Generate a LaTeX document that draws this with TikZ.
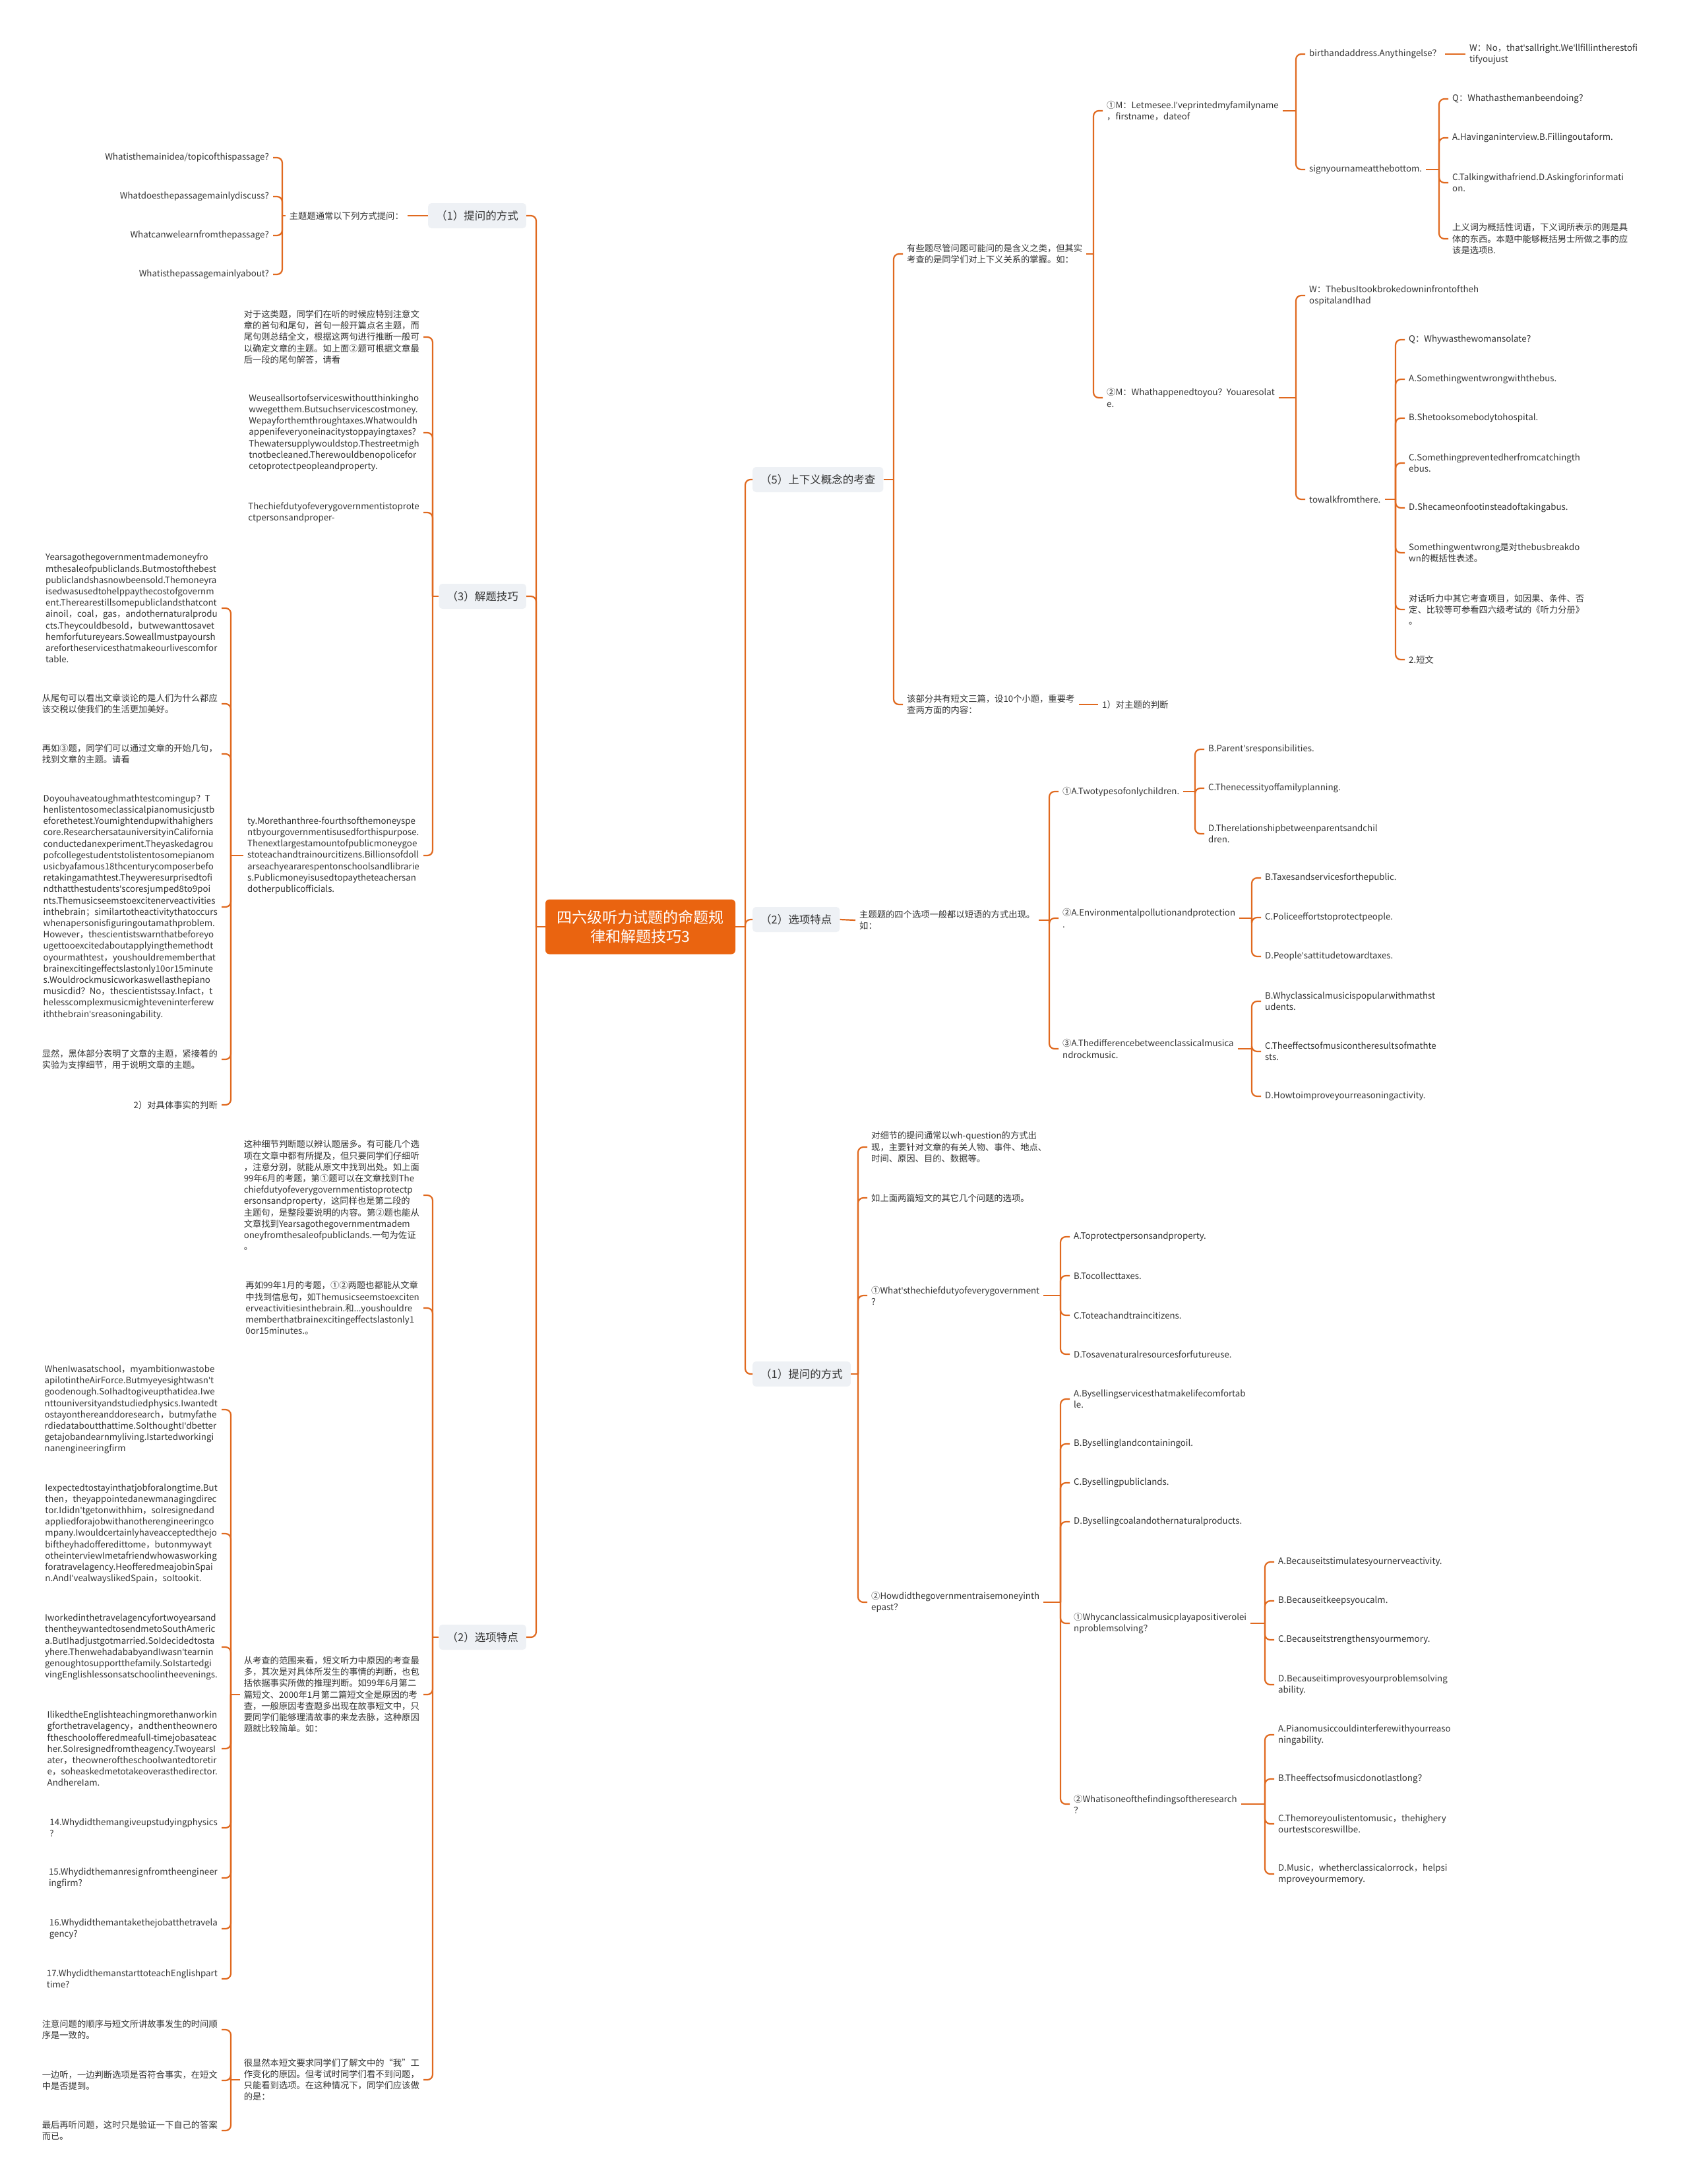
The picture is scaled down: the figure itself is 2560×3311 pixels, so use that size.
\documentclass[tikz,border=0pt]{standalone}
\usepackage{fontspec}
\setmainfont{Noto Sans CJK SC}
\newfontfamily\apfont{Noto Sans}
\newcommand\ap{{\apfont'}}
\usetikzlibrary{positioning}

\definecolor{linkorange}{HTML}{E0691F}
\definecolor{rootorange}{HTML}{EA6410}
\definecolor{topicgray}{HTML}{EEF1F5}
\definecolor{textgray}{HTML}{333333}

\tikzset{
  note/.style={font=\fontsize{13.3}{17.2}\selectfont, text=textgray, align=left, inner xsep=6pt, inner ysep=2pt},
  notel/.style={note, anchor=east},
  noter/.style={note, anchor=west},
  topic/.style={fill=topicgray, rounded corners=5pt, font=\fontsize{16.5}{20}\selectfont, text=textgray, minimum height=38pt, inner xsep=12pt},
  link/.style={draw=linkorange, line width=2.2pt},
  branch/.style={link, rounded corners=8pt},
}

\begin{document}
\begin{tikzpicture}[x=1pt, y=-1pt]
  \fill[white] (0,0) rectangle (2560,3311);
  \useasboundingbox (0,0) rectangle (2560,3311);

  % root
  \node[fill=rootorange, rounded corners=6pt, text=white, align=center,
    font=\fontsize{23}{29.5}\selectfont, minimum width=288pt, minimum height=83pt]
    (root) at (971,1405) {四六级听力试题的命题规\\律和解题技巧3};

  %% left side
  \coordinate (sL) at (813,1405);
  \node[topic, anchor=east] (q1L) at (798,327) {（1）提问的方式};
  \node[topic, anchor=east] (tech3) at (798,904) {（3）解题技巧};
  \node[topic, anchor=east] (opt2L) at (798,2482) {（2）选项特点};
  \draw[link] (root.west) -- (sL);
  \foreach \n in {q1L,tech3,opt2L} \draw[branch] (sL) |- (\n.east);

  % (1) question forms
  \node[notel] (l1q) at (618,327) {主题题通常以下列方式提问：};
  \draw[link] (q1L.west) -- (l1q.east);
  \node[notel] (l1qa) at (414,239) {Whatisthemainidea/topicofthispassage?};
  \node[notel] (l1qb) at (414,298) {Whatdoesthepassagemainlydiscuss?};
  \node[notel] (l1qc) at (414,357) {Whatcanwelearnfromthepassage?};
  \node[notel] (l1qd) at (414,416) {Whatisthepassagemainlyabout?};
  \coordinate (s1) at (428,327);
  \draw[link] (l1q.west) -- (s1);
  \foreach \n in {l1qa,l1qb,l1qc,l1qd} \draw[branch] (s1) |- (\n.east);

  % (3) skills
  \node[notel] (t3a) at (642,511) {对于这类题，同学们在听的时候应特别注意文\\
    章的首句和尾句，首句一般开篇点名主题，而\\
    尾句则总结全文，根据这两句进行推断一般可\\
    以确定文章的主题。如上面②题可根据文章最\\
    后一段的尾句解答，请看};
  \node[notel] (t3b) at (642,656) {Weuseallsortofserviceswithoutthinkingho\\
    wwegetthem.Butsuchservicescostmoney.\\
    Wepayforthemthroughtaxes.Whatwouldh\\
    appenifeveryoneinacitystoppayingtaxes?\\
    Thewatersupplywouldstop.Thestreetmigh\\
    tnotbecleaned.Therewouldbenopolicefor\\
    cetoprotectpeopleandproperty.};
  \node[notel] (t3c) at (642,777) {Thechiefdutyofeverygovernmentistoprote\\
    ctpersonsandproper-};
  \node[notel] (t3d) at (642,1297) {ty.Morethanthree-fourthsofthemoneyspe\\
    ntbyourgovernmentisusedforthispurpose.\\
    Thenextlargestamountofpublicmoneygoe\\
    stoteachandtrainourcitizens.Billionsofdoll\\
    arseachyeararespentonschoolsandlibrarie\\
    s.Publicmoneyisusedtopaytheteachersan\\
    dotherpublicofficials.};
  \coordinate (s3) at (656,904);
  \draw[link] (tech3.west) -- (s3);
  \foreach \n in {t3a,t3b,t3c,t3d} \draw[branch] (s3) |- (\n.east);

  \node[notel] (t3da) at (336,922) {Yearsagothegovernmentmademoneyfro\\
    mthesaleofpubliclands.Butmostofthebest\\
    publiclandshasnowbeensold.Themoneyra\\
    isedwasusedtohelppaythecostofgovernm\\
    ent.Therearestillsomepubliclandsthatcont\\
    ainoil，coal，gas，andothernaturalprodu\\
    cts.Theycouldbesold，butwewanttosavet\\
    hemforfutureyears.Soweallmustpayoursh\\
    arefortheservicesthatmakeourlivescomfor\\
    table.};
  \node[notel] (t3db) at (336,1067) {从尾句可以看出文章谈论的是人们为什么都应\\
    该交税以使我们的生活更加美好。};
  \node[notel] (t3dc) at (336,1143) {再如③题，同学们可以通过文章的开始几句，\\
    找到文章的主题。请看};
  \node[notel] (t3dd) at (336,1375) {Doyouhaveatoughmathtestcomingup？T\\
    henlistentosomeclassicalpianomusicjustb\\
    eforethetest.Youmightendupwithahighers\\
    core.ResearchersatauniversityinCalifornia\\
    conductedanexperiment.Theyaskedagrou\\
    pofcollegestudentstolistentosomepianom\\
    usicbyafamous18thcenturycomposerbefo\\
    retakingamathtest.Theyweresurprisedtofi\\
    ndthatthestudents\ap scoresjumped8to9poi\\
    nts.Themusicseemstoexcitenerveactivities\\
    inthebrain；similartotheactivitythatoccurs\\
    whenapersonisfiguringoutamathproblem.\\
    However，thescientistswarnthatbeforeyo\\
    ugettooexcitedaboutapplyingthemethodt\\
    oyourmathtest，youshouldrememberthat\\
    brainexcitingeffectslastonly10or15minute\\
    s.Wouldrockmusicworkaswellasthepiano\\
    musicdid？No，thescientistssay.Infact，t\\
    helesscomplexmusicmighteveninterferew\\
    iththebrain\ap sreasoningability.};
  \node[notel] (t3de) at (336,1606) {显然，黑体部分表明了文章的主题，紧接着的\\
    实验为支撑细节，用于说明文章的主题。};
  \node[notel] (t3df) at (336,1675) {2）对具体事实的判断};
  \coordinate (s3d) at (350,1297);
  \draw[link] (t3d.west) -- (s3d);
  \foreach \n in {t3da,t3db,t3dc,t3dd,t3de,t3df} \draw[branch] (s3d) |- (\n.east);

  % (2) option features, left
  \node[notel] (d2a) at (642,1812) {这种细节判断题以辨认题居多。有可能几个选\\
    项在文章中都有所提及，但只要同学们仔细听\\
    ，注意分别，就能从原文中找到出处。如上面\\
    99年6月的考题，第①题可以在文章找到The\\
    chiefdutyofeverygovernmentistoprotectp\\
    ersonsandproperty，这同样也是第二段的\\
    主题句，是整段要说明的内容。第②题也能从\\
    文章找到Yearsagothegovernmentmadem\\
    oneyfromthesaleofpubliclands.一句为佐证\\
    。};
  \node[notel] (d2b) at (642,1983) {再如99年1月的考题，①②两题也都能从文章\\
    中找到信息句，如Themusicseemstoexciten\\
    erveactivitiesinthebrain.和...youshouldre\\
    memberthatbrainexcitingeffectslastonly1\\
    0or15minutes.。};
  \node[notel] (d2c) at (642,2569) {从考查的范围来看，短文听力中原因的考查最\\
    多，其次是对具体所发生的事情的判断，也包\\
    括依据事实所做的推理判断。如99年6月第二\\
    篇短文、2000年1月第二篇短文全是原因的考\\
    查，一般原因考查题多出现在故事短文中，只\\
    要同学们能够理清故事的来龙去脉，这种原因\\
    题就比较简单。如：};
  \node[notel] (d2d) at (642,3153) {很显然本短文要求同学们了解文中的“我”工\\
    作变化的原因。但考试时同学们看不到问题，\\
    只能看到选项。在这种情况下，同学们应该做\\
    的是：};
  \coordinate (s2) at (656,2482);
  \draw[link] (opt2L.west) -- (s2);
  \foreach \n in {d2a,d2b,d2c,d2d} \draw[branch] (s2) |- (\n.east);

  \node[notel] (d2ca) at (336,2137) {WhenIwasatschool，myambitionwastobe\\
    apilotintheAirForce.Butmyeyesightwasn\ap t\\
    goodenough.SoIhadtogiveupthatidea.Iwe\\
    nttouniversityandstudiedphysics.Iwantedt\\
    ostayonthereanddoresearch，butmyfathe\\
    rdiedataboutthattime.SoIthoughtI\ap dbetter\\
    getajobandearnmyliving.Istartedworkingi\\
    nanengineeringfirm};
  \node[notel] (d2cb) at (336,2325) {Iexpectedtostayinthatjobforalongtime.But\\
    then，theyappointedanewmanagingdirec\\
    tor.Ididn\ap tgetonwithhim，soIresignedand\\
    appliedforajobwithanotherengineeringco\\
    mpany.Iwouldcertainlyhaveacceptedthejo\\
    biftheyhadofferedittome，butonmywayt\\
    otheinterviewImetafriendwhowasworking\\
    foratravelagency.HeofferedmeajobinSpai\\
    n.AndI\ap vealwayslikedSpain，soItookit.};
  \node[notel] (d2cc) at (336,2497) {Iworkedinthetravelagencyfortwoyearsand\\
    thentheywantedtosendmetoSouthAmeric\\
    a.ButIhadjustgotmarried.SoIdecidedtosta\\
    yhere.ThenwehadababyandIwasn\ap tearnin\\
    genoughtosupportthefamily.SoIstartedgi\\
    vingEnglishlessonsatschoolintheevenings.};
  \node[notel] (d2cd) at (336,2651) {IlikedtheEnglishteachingmorethanworkin\\
    gforthetravelagency，andthentheownero\\
    ftheschoolofferedmeafull-timejobasateac\\
    her.SoIresignedfromtheagency.TwoyearsI\\
    ater，theowneroftheschoolwantedtoretir\\
    e，soheaskedmetotakeoverasthedirector.\\
    AndhereIam.};
  \node[notel] (d2ce) at (336,2771) {14.Whydidthemangiveupstudyingphysics\\ ?};
  \node[notel] (d2cf) at (336,2847) {15.Whydidthemanresignfromtheengineer\\ ingfirm?};
  \node[notel] (d2cg) at (336,2924) {16.Whydidthemantakethejobatthetravela\\ gency?};
  \node[notel] (d2ch) at (336,3000) {17.WhydidthemanstarttoteachEnglishpart\\ time?};
  \coordinate (s2c) at (350,2569);
  \draw[link] (d2c.west) -- (s2c);
  \foreach \n in {d2ca,d2cb,d2cc,d2cd,d2ce,d2cf,d2cg,d2ch} \draw[branch] (s2c) |- (\n.east);

  \node[notel] (d2da) at (336,3077) {注意问题的顺序与短文所讲故事发生的时间顺\\ 序是一致的。};
  \node[notel] (d2db) at (336,3154) {一边听，一边判断选项是否符合事实，在短文\\ 中是否提到。};
  \node[notel] (d2dc) at (336,3230) {最后再听问题，这时只是验证一下自己的答案\\ 而已。};
  \coordinate (s2d) at (350,3153);
  \draw[link] (d2d.west) -- (s2d);
  \foreach \n in {d2da,d2db,d2dc} \draw[branch] (s2d) |- (\n.east);

  %% right side
  \coordinate (sR) at (1130,1405);
  \node[topic, anchor=west] (hyp5) at (1141,727) {（5）上下义概念的考查};
  \node[topic, anchor=west] (opt2R) at (1141,1394) {（2）选项特点};
  \node[topic, anchor=west] (q1R) at (1141,2083) {（1）提问的方式};
  \draw[link] (root.east) -- (sR);
  \foreach \n in {hyp5,opt2R,q1R} \draw[branch] (sR) |- (\n.west);

  % (5) hyponyms
  \node[noter] (r5a) at (1369,385) {有些题尽管问题可能问的是含义之类，但其实\\
    考查的是同学们对上下义关系的掌握。如：};
  \node[noter] (r5b) at (1369,1068) {该部分共有短文三篇，设10个小题，重要考\\
    查两方面的内容：};
  \coordinate (s5) at (1355,727);
  \draw[link] (hyp5.east) -- (s5);
  \foreach \n in {r5a,r5b} \draw[branch] (s5) |- (\n.west);
  \node[noter] (r5c) at (1665,1068) {1）对主题的判断};
  \draw[link] (r5b.east) -- (r5c.west);

  \node[noter] (m1) at (1672,168) {①M：Letmesee.I\ap veprintedmyfamilyname\\ ，firstname，dateof};
  \node[noter] (m2) at (1672,603) {②M：Whathappenedtoyou？Youaresolat\\ e.};
  \coordinate (s5a) at (1658,385);
  \draw[link] (r5a.east) -- (s5a);
  \foreach \n in {m1,m2} \draw[branch] (s5a) |- (\n.west);

  \node[noter] (m1a) at (1979,82) {birthandaddress.Anythingelse？};
  \node[noter] (m1b) at (1979,257) {signyournameatthebottom.};
  \coordinate (sm1) at (1965,168);
  \draw[link] (m1.east) -- (sm1);
  \foreach \n in {m1a,m1b} \draw[branch] (sm1) |- (\n.west);
  \node[noter] (w1) at (2222,82) {W：No，that\ap sallright.We\ap llfillintherestofi\\ tifyoujust};
  \draw[link] (m1a.east) -- (w1.west);

  \node[noter] (m1ba) at (2196,150) {Q：Whathasthemanbeendoing？};
  \node[noter] (m1bb) at (2196,209) {A.Havinganinterview.B.Fillingoutaform.};
  \node[noter] (m1bc) at (2196,277) {C.Talkingwithafriend.D.Askingforinformati\\ on.};
  \node[noter] (m1bd) at (2196,362) {上义词为概括性词语，下义词所表示的则是具\\
    体的东西。本题中能够概括男士所做之事的应\\
    该是选项B.};
  \coordinate (sm1b) at (2182,257);
  \draw[link] (m1b.east) -- (sm1b);
  \foreach \n in {m1ba,m1bb,m1bc,m1bd} \draw[branch] (sm1b) |- (\n.west);

  \node[noter] (m2a) at (1979,448) {W：ThebusItookbrokedowninfrontoftheh\\ ospitalandIhad};
  \node[noter] (m2b) at (1979,757) {towalkfromthere.};
  \coordinate (sm2) at (1965,603);
  \draw[link] (m2.east) -- (sm2);
  \foreach \n in {m2a,m2b} \draw[branch] (sm2) |- (\n.west);

  \node[noter] (m2ba) at (2130,515) {Q：Whywasthewomansolate？};
  \node[noter] (m2bb) at (2130,575) {A.Somethingwentwrongwiththebus.};
  \node[noter] (m2bc) at (2130,634) {B.Shetooksomebodytohospital.};
  \node[noter] (m2bd) at (2130,702) {C.Somethingpreventedherfromcatchingth\\ ebus.};
  \node[noter] (m2be) at (2130,770) {D.Shecameonfootinsteadoftakingabus.};
  \node[noter] (m2bf) at (2130,838) {Somethingwentwrong是对thebusbreakdo\\ wn的概括性表述。};
  \node[noter] (m2bg) at (2130,924) {对话听力中其它考查项目，如因果、条件、否\\
    定、比较等可参看四六级考试的《听力分册》\\
    。};
  \node[noter] (m2bh) at (2130,1000) {2.短文};
  \coordinate (sm2b) at (2116,757);
  \draw[link] (m2b.east) -- (sm2b);
  \foreach \n in {m2ba,m2bb,m2bc,m2bd,m2be,m2bf,m2bg,m2bh} \draw[branch] (sm2b) |- (\n.west);

  % (2) option features, right
  \node[noter] (o2) at (1297,1395) {主题题的四个选项一般都以短语的方式出现。\\ 如：};
  \draw[link] (opt2R.east) -- (o2.west);
  \node[noter] (oa) at (1605,1200) {①A.Twotypesofonlychildren.};
  \node[noter] (ob) at (1605,1392) {②A.Environmentalpollutionandprotection\\ .};
  \node[noter] (oc) at (1605,1590) {③A.Thedifferencebetweenclassicalmusica\\ ndrockmusic.};
  \coordinate (so2) at (1591,1395);
  \draw[link] (o2.east) -- (so2);
  \foreach \n in {oa,ob,oc} \draw[branch] (so2) |- (\n.west);

  \node[noter] (oaa) at (1826,1136) {B.Parent\ap sresponsibilities.};
  \node[noter] (oab) at (1826,1195) {C.Thenecessityoffamilyplanning.};
  \node[noter] (oac) at (1826,1264) {D.Therelationshipbetweenparentsandchil\\ dren.};
  \coordinate (soa) at (1812,1200);
  \draw[link] (oa.east) -- (soa);
  \foreach \n in {oaa,oab,oac} \draw[branch] (soa) |- (\n.west);

  \node[noter] (oba) at (1912,1331) {B.Taxesandservicesforthepublic.};
  \node[noter] (obb) at (1912,1391) {C.Policeeffortstoprotectpeople.};
  \node[noter] (obc) at (1912,1450) {D.People\ap sattitudetowardtaxes.};
  \coordinate (sob) at (1898,1392);
  \draw[link] (ob.east) -- (sob);
  \foreach \n in {oba,obb,obc} \draw[branch] (sob) |- (\n.west);

  \node[noter] (oca) at (1912,1518) {B.Whyclassicalmusicispopularwithmathst\\ udents.};
  \node[noter] (ocb) at (1912,1594) {C.Theeffectsofmusicontheresultsofmathte\\ sts.};
  \node[noter] (occ) at (1912,1662) {D.Howtoimproveyourreasoningactivity.};
  \coordinate (soc) at (1898,1590);
  \draw[link] (oc.east) -- (soc);
  \foreach \n in {oca,ocb,occ} \draw[branch] (soc) |- (\n.west);

  % (1) question forms, right
  \node[noter] (qa) at (1315,1739) {对细节的提问通常以wh-question的方式出\\
    现，主要针对文章的有关人物、事件、地点、\\
    时间、原因、目的、数据等。};
  \node[noter] (qb) at (1315,1816) {如上面两篇短文的其它几个问题的选项。};
  \node[noter] (qc) at (1315,1964) {①What\ap sthechiefdutyofeverygovernment\\ ？};
  \node[noter] (qd) at (1315,2429) {②Howdidthegovernmentraisemoneyinth\\ epast？};
  \coordinate (sq) at (1301,2083);
  \draw[link] (q1R.east) -- (sq);
  \foreach \n in {qa,qb,qc,qd} \draw[branch] (sq) |- (\n.west);

  \node[noter] (qca) at (1622,1875) {A.Toprotectpersonsandproperty.};
  \node[noter] (qcb) at (1622,1934) {B.Tocollecttaxes.};
  \node[noter] (qcc) at (1622,1994) {C.Toteachandtraincitizens.};
  \node[noter] (qcd) at (1622,2053) {D.Tosavenaturalresourcesforfutureuse.};
  \coordinate (sqc) at (1608,1964);
  \draw[link] (qc.east) -- (sqc);
  \foreach \n in {qca,qcb,qcc,qcd} \draw[branch] (sqc) |- (\n.west);

  \node[noter] (qda) at (1622,2121) {A.Bysellingservicesthatmakelifecomfortab\\ le.};
  \node[noter] (qdb) at (1622,2189) {B.Bysellinglandcontainingoil.};
  \node[noter] (qdc) at (1622,2248) {C.Bysellingpubliclands.};
  \node[noter] (qdd) at (1622,2307) {D.Bysellingcoalandothernaturalproducts.};
  \node[noter] (qde) at (1622,2461) {①Whycanclassicalmusicplayapositiverolei\\ nproblemsolving？};
  \node[noter] (qdf) at (1622,2735) {②Whatisoneofthefindingsoftheresearch\\ ？};
  \coordinate (sqd) at (1608,2429);
  \draw[link] (qd.east) -- (sqd);
  \foreach \n in {qda,qdb,qdc,qdd,qde,qdf} \draw[branch] (sqd) |- (\n.west);

  \node[noter] (qea) at (1932,2368) {A.Becauseitstimulatesyournerveactivity.};
  \node[noter] (qeb) at (1932,2427) {B.Becauseitkeepsyoucalm.};
  \node[noter] (qec) at (1932,2486) {C.Becauseitstrengthensyourmemory.};
  \node[noter] (qed) at (1932,2554) {D.Becauseitimprovesyourproblemsolving\\ ability.};
  \coordinate (sqe) at (1918,2461);
  \draw[link] (qde.east) -- (sqe);
  \foreach \n in {qea,qeb,qec,qed} \draw[branch] (sqe) |- (\n.west);

  \node[noter] (qfa) at (1932,2630) {A.Pianomusiccouldinterferewithyourreaso\\ ningability.};
  \node[noter] (qfb) at (1932,2697) {B.Theeffectsofmusicdonotlastlong？};
  \node[noter] (qfc) at (1932,2765) {C.Themoreyoulistentomusic，thehighery\\ ourtestscoreswillbe.};
  \node[noter] (qfd) at (1932,2841) {D.Music，whetherclassicalorrock，helpsi\\ mproveyourmemory.};
  \coordinate (sqf) at (1918,2735);
  \draw[link] (qdf.east) -- (sqf);
  \foreach \n in {qfa,qfb,qfc,qfd} \draw[branch] (sqf) |- (\n.west);
\end{tikzpicture}
\end{document}
